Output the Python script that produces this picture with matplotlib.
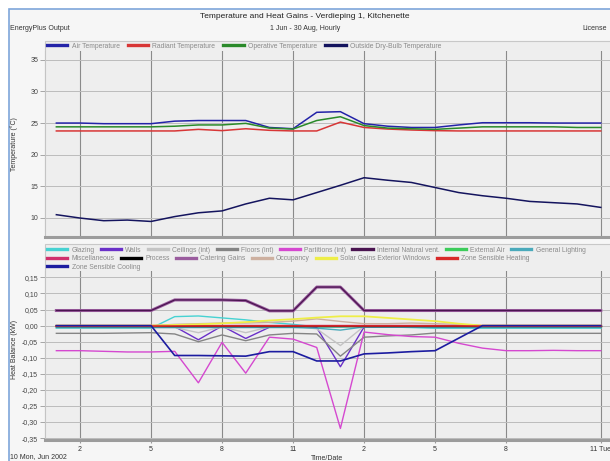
import matplotlib.pyplot as plt
from matplotlib.patches import Rectangle
from matplotlib.lines import Line2D

# hourly values, 10 Mon Jun 2002 (hour 1..24)
hours = list(range(1, 25))

air_temp = [25.0, 25.0, 24.9, 24.9, 24.9, 25.3, 25.4, 25.4, 25.4, 24.3, 24.1, 26.7,
            26.8, 24.9, 24.5, 24.3, 24.3, 24.7, 25.05, 25.05, 25.05, 25.0, 25.0, 25.0]
radiant_temp = [23.75, 23.75, 23.75, 23.75, 23.75, 23.75, 24.0, 23.8, 24.1, 23.85, 23.75, 23.75,
                25.15, 24.3, 24.05, 23.9, 23.8, 23.75, 23.75, 23.75, 23.75, 23.75, 23.75, 23.75]
operative_temp = [24.4, 24.4, 24.4, 24.4, 24.4, 24.5, 24.7, 24.7, 24.95, 24.2, 24.05, 25.4,
                  26.0, 24.6, 24.2, 24.1, 24.0, 24.2, 24.4, 24.4, 24.4, 24.4, 24.3, 24.3]
outside_temp = [10.5, 9.97, 9.55, 9.65, 9.43, 10.2, 10.8, 11.1, 12.2, 13.1, 12.85, 14.0,
                15.15, 16.35, 15.95, 15.6, 14.8, 14.0, 13.5, 13.1, 12.6, 12.4, 12.2, 11.65]

glazing = [-0.008, -0.008, -0.008, -0.008, -0.008, 0.028, 0.030, 0.024, 0.018, 0.010, 0.004, -0.004,
           -0.004, -0.002, -0.004, -0.006, -0.008, -0.008, -0.008, -0.008, -0.008, -0.008, -0.008, -0.008]
walls = [-0.004, -0.004, -0.004, -0.004, -0.004, -0.003, -0.044, -0.001, -0.040, -0.005, -0.004, -0.006,
         -0.128, -0.004, -0.005, -0.005, -0.005, -0.005, -0.005, -0.005, -0.005, -0.005, -0.005, -0.005]
ceilings = [-0.006, -0.006, -0.006, -0.006, -0.006, -0.006, -0.022, -0.004, -0.022, -0.004, -0.002, -0.010,
            -0.062, -0.002, -0.004, -0.004, -0.004, -0.004, -0.004, -0.004, -0.004, -0.004, -0.004, -0.004]
floors = [-0.024, -0.024, -0.024, -0.023, -0.022, -0.026, -0.050, -0.029, -0.047, -0.029, -0.024, -0.026,
          -0.095, -0.036, -0.032, -0.029, -0.023, -0.024, -0.024, -0.024, -0.024, -0.024, -0.024, -0.024]
partitions = [-0.078, -0.078, -0.080, -0.082, -0.082, -0.080, -0.178, -0.052, -0.148, -0.036, -0.042, -0.068,
              -0.320, -0.020, -0.028, -0.034, -0.036, -0.055, -0.070, -0.078, -0.078, -0.077, -0.078, -0.078]
nat_vent = [0.047, 0.047, 0.047, 0.047, 0.047, 0.080, 0.080, 0.080, 0.078, 0.046, 0.046, 0.120,
            0.120, 0.047, 0.047, 0.047, 0.047, 0.047, 0.047, 0.047, 0.047, 0.047, 0.047, 0.047]
external_air = [0.0] * 24
lighting = [-0.006, -0.006, -0.006, -0.006, -0.006, -0.006, -0.006, -0.006, -0.006, -0.006, -0.006, -0.008,
            -0.014, -0.004, -0.005, -0.005, -0.006, -0.006, -0.006, -0.006, -0.006, -0.006, -0.006, -0.006]
misc = [0.002] * 24
process = [0.0] * 24
catering = [0.047, 0.047, 0.047, 0.047, 0.047, 0.080, 0.080, 0.080, 0.078, 0.046, 0.046, 0.120,
            0.120, 0.047, 0.047, 0.047, 0.047, 0.047, 0.047, 0.047, 0.047, 0.047, 0.047, 0.047]
occupancy = [0.0, 0.0, 0.0, 0.0, 0.0, 0.004, 0.006, 0.008, 0.008, 0.010, 0.014, 0.021,
             0.013, 0.006, 0.006, 0.008, 0.006, 0.004, 0.0, 0.0, 0.0, 0.0, 0.0, 0.0]
solar = [0.0, 0.0, 0.0, 0.0, 0.0, 0.002, 0.004, 0.007, 0.011, 0.016, 0.020, 0.025,
         0.029, 0.029, 0.024, 0.019, 0.014, 0.006, 0.0, 0.0, 0.0, 0.0, 0.0, 0.0]
heating = [0.0] * 24
cooling = [0.0, 0.0, 0.0, 0.0, 0.0, -0.093, -0.093, -0.094, -0.095, -0.081, -0.081, -0.110,
           -0.110, -0.088, -0.085, -0.081, -0.078, -0.039, 0.0, 0.0, 0.0, 0.0, 0.0, 0.0]

tick_hours = [2, 5, 8, 11, 14, 17, 20, 24]
tick_names = ['2', '5', '8', '11', '2', '5', '8', '11 Tue']
temp_ticks = [10, 15, 20, 25, 30, 35]
hb_ticks = [0.15, 0.10, 0.05, 0.0, -0.05, -0.10, -0.15, -0.20, -0.25, -0.30, -0.35]
hb_names = ['0,15', '0,10', '0,05', '0,00', '-0,05', '-0,10', '-0,15', '-0,20', '-0,25', '-0,30', '-0,35']

W, H = 610, 461


def box(l, t, r, b):
    return [l / W, 1 - b / H, (r - l) / W, (b - t) / H]


plt.rcParams['font.family'] = ['Liberation Sans', 'DejaVu Sans']
fig = plt.figure(figsize=(6.1, 4.61), dpi=100)

# frame + panel backgrounds
fig.patches.append(Rectangle((9 / W, -0.01), 1, 1 - 9 / H + 0.01, transform=fig.transFigure,
                             facecolor='#f6f6f6', edgecolor='#7ea6da', lw=1.2, zorder=-5))
for t, b in [(41, 237), (244, 440)]:
    l0, b0, w0, h0 = box(45, t, 612, b)
    fig.patches.append(Rectangle((l0, b0), w0, h0, transform=fig.transFigure,
                                 facecolor='#eeeeee', edgecolor='#c8c8c8', lw=0.8, zorder=-4))

fig.text(0.5, 1 - 17 / H, 'Temperature and Heat Gains - Verdieping 1, Kitchenette',
         ha='center', va='center', fontsize=6, color='#222222')
fig.text(10 / W, 1 - 28 / H, 'EnergyPlus Output', ha='left', va='center', fontsize=5, color='#333333')
fig.text(0.5, 1 - 28 / H, '1 Jun - 30 Aug, Hourly', ha='center', va='center', fontsize=5, color='#333333')
fig.text(582 / W, 1 - 28 / H, 'License', ha='left', va='center', fontsize=5, color='#333333')


def style(ax):
    ax.set_facecolor('#eeeeee')
    ax.set_xlim(0.52, 24.39)
    ax.set_xticks(tick_hours)
    ax.grid(axis='x', color='#8a8a8a', lw=0.8)
    ax.grid(axis='y', color='#bcbcbc', lw=0.7)
    ax.set_axisbelow(True)
    for s in ['top', 'right']:
        ax.spines[s].set_visible(False)
    ax.spines['left'].set_color('#c4c4c4')
    ax.spines['bottom'].set_color('#9c9c9c')
    ax.spines['bottom'].set_linewidth(2.2)
    ax.tick_params(axis='y', length=3.5, width=0.6, color='#999999', labelsize=5,
                   labelcolor='#444444', pad=1.5)


# top panel: temperatures
ax1 = fig.add_axes(box(45, 51, 610, 237))
style(ax1)
ax1.plot(hours, air_temp, color='#2323a8', lw=1.1)
ax1.plot(hours, radiant_temp, color='#d83636', lw=1.1)
ax1.plot(hours, operative_temp, color='#2a8a2a', lw=1.1)
ax1.plot(hours, outside_temp, color='#14145e', lw=1.1)
ax1.set_ylim(6.97, 36.4)
ax1.set_yticks(temp_ticks)
ax1.tick_params(axis='x', length=0, labelbottom=False)
fig.text(14 / W, 1 - 144 / H, 'Temperature (°C)', rotation=90, ha='center', va='center',
         fontsize=5, color='#333333')

top_items = [('Air Temperature', '#2323a8'), ('Radiant Temperature', '#d83636'),
             ('Operative Temperature', '#2a8a2a'), ('Outside Dry-Bulb Temperature', '#14145e')]
fig.legend([Line2D([], [], color=c, lw=2.4) for _, c in top_items], [n for n, _ in top_items],
           loc='center left', bbox_to_anchor=(47 / W, 1 - 46 / H), ncol=4, frameon=False,
           fontsize=4.9, labelcolor='#8a8a8a', handlelength=3.0, handletextpad=0.6,
           columnspacing=1.2, borderpad=0, borderaxespad=0)

# bottom panel: heat balance
ax2 = fig.add_axes(box(45, 271, 610, 440))
style(ax2)
series = [
    ('Glazing', glazing, '#46d2d2', 1.0),
    ('Walls', walls, '#6a30c8', 1.0),
    ('Ceilings (int)', ceilings, '#c4c4c4', 1.0),
    ('Floors (int)', floors, '#848484', 1.0),
    ('Partitions (int)', partitions, '#d548d0', 1.0),
    ('Internal Natural vent.', nat_vent, '#4a1450', 0.9),
    ('External Air', external_air, '#3ccc5a', 1.0),
    ('General Lighting', lighting, '#4aaabb', 1.0),
    ('Miscellaneous', misc, '#d0306c', 1.0),
    ('Process', process, '#000000', 1.0),
    ('Catering Gains', catering, '#9a5c9e', 2.2),
    ('Occupancy', occupancy, '#cdb0a0', 1.0),
    ('Solar Gains Exterior Windows', solar, '#eeee48', 1.3),
    ('Zone Sensible Heating', heating, '#d82828', 1.2),
    ('Zone Sensible Cooling', cooling, '#1c1ca0', 1.2),
]
for name, vals, c, lw in series:
    z = 3 if name == 'Internal Natural vent.' else 2
    ax2.plot(hours, vals, color=c, lw=lw, zorder=z)
ax2.set_ylim(-0.356, 0.170)
ax2.set_yticks(hb_ticks)
ax2.set_yticklabels(hb_names)
ax2.set_xticklabels(tick_names)
ax2.tick_params(axis='x', length=2, color='#999999', labelsize=5, labelcolor='#333333', pad=2)
fig.text(14 / W, 1 - 349 / H, 'Heat Balance (kW)', rotation=90, ha='center', va='center',
         fontsize=5, color='#333333')
fig.text(327 / W, 1 - 458 / H, 'Time/Date', ha='center', va='center', fontsize=5, color='#333333')
fig.text(10 / W, 1 - 457 / H, '10 Mon, Jun 2002', ha='left', va='center', fontsize=5, color='#333333')

rows = [(series[0:8], 250), (series[8:14], 259), (series[14:15], 267)]
for items, y in rows:
    fig.legend([Line2D([], [], color=c, lw=2.4) for _, _, c, _ in items],
               [n for n, _, _, _ in items],
               loc='center left', bbox_to_anchor=(47 / W, 1 - y / H), ncol=len(items),
               frameon=False, fontsize=4.9, labelcolor='#8a8a8a', handlelength=3.0,
               handletextpad=0.6, columnspacing=0.9, borderpad=0, borderaxespad=0)

fig.savefig('out.png', dpi=100)
